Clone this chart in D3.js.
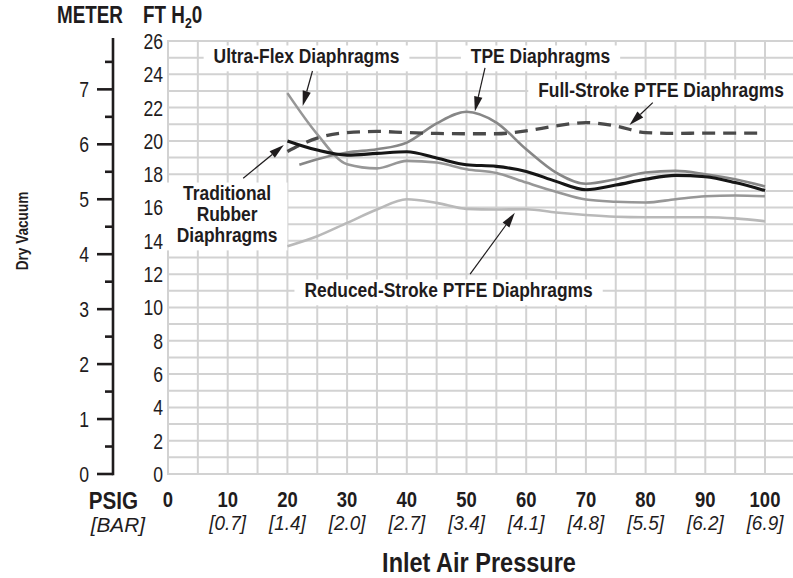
<!DOCTYPE html>
<html>
<head>
<meta charset="utf-8">
<script src="https://cdn.jsdelivr.net/npm/d3@7"></script>
<style>
  html, body { margin: 0; padding: 0; background: #fff; }
  svg { display: block; font-family: "Liberation Sans", Arial, Helvetica, sans-serif; }
</style>
</head>
<body>
<svg id="chart" width="793" height="578"></svg>
<script>
// ---- data -------------------------------------------------------------
// inlet air pressure (psig) at which each curve was sampled
const pressurePsi = [20, 25, 30, 35, 40, 45, 50, 55, 60, 65, 70, 75, 80, 85, 90, 95, 100];
const tpePsi      = [22, 25, 30, 35, 40, 45, 50, 55, 60, 65, 70, 75, 80, 85, 90, 95, 100];

// dry vacuum, ft H2O
const traditionalRubber = [20.0, 19.45, 19.15, 19.25, 19.35, 18.97, 18.57, 18.47, 18.17, 17.57, 17.07, 17.35, 17.7, 17.93, 17.85, 17.5, 17.02];
const ultraFlex         = [22.87, 20.4, 18.6, 18.35, 18.8, 18.7, 18.3, 18.07, 17.5, 16.95, 16.48, 16.35, 16.3, 16.5, 16.68, 16.72, 16.68];
const tpe               = [18.57, 18.9, 19.3, 19.5, 19.9, 21.05, 21.75, 21.1, 19.5, 18.1, 17.43, 17.7, 18.1, 18.2, 18.0, 17.7, 17.27];
const fullStrokePtfe    = [19.37, 20.17, 20.5, 20.57, 20.5, 20.45, 20.43, 20.43, 20.6, 20.9, 21.1, 20.9, 20.5, 20.45, 20.47, 20.47, 20.47];
const reducedStrokePtfe = [13.68, 14.28, 15.08, 15.88, 16.5, 16.28, 15.92, 15.88, 15.9, 15.7, 15.55, 15.45, 15.42, 15.42, 15.42, 15.35, 15.18];

// axis tick labels
const psiTicks   = [0, 10, 20, 30, 40, 50, 60, 70, 80, 90, 100];
const barLabels  = ["", "[0.7]", "[1.4]", "[2.0]", "[2.7]", "[3.4]", "[4.1]", "[4.8]", "[5.5]", "[6.2]", "[6.9]"];
const ftTicks    = [0, 2, 4, 6, 8, 10, 12, 14, 16, 18, 20, 22, 24, 26];
const meterTicks = [0, 1, 2, 3, 4, 5, 6, 7];

// ---- scales -----------------------------------------------------------
const svg = d3.select("#chart");
const x  = d3.scaleLinear().domain([0, 100]).range([168, 765]);
const y  = d3.scaleLinear().domain([0, 26]).range([474, 41]);
const yM = d3.scaleLinear().domain([0, 7.88]).range([474, 41]);

const INK = "#1f1c1d";

// text squeezed horizontally to give a condensed face
function label(parent, str, px, py, o = {}) {
  const t = parent.append("text")
    .attr("transform", `translate(${px},${py}) scale(${o.sx || 0.85},1)`)
    .attr("text-anchor", o.anchor || "start")
    .attr("font-size", o.size || 21)
    .attr("font-weight", o.weight || "bold")
    .attr("font-style", o.italic ? "italic" : "normal")
    .attr("fill", INK)
    .text(str);
  if (o.dy) t.attr("dy", o.dy);
  return t;
}

// ---- grid -------------------------------------------------------------
const grid = svg.append("g").attr("stroke", "#d2d2d2").attr("stroke-width", 2);
grid.selectAll("line.h").data(d3.range(0, 27)).join("line")
  .attr("x1", x(0) - 1).attr("x2", x(106))
  .attr("y1", d => y(d)).attr("y2", d => y(d));
grid.selectAll("line.v").data(d3.range(0, 106, 5)).join("line")
  .attr("x1", d => x(d)).attr("x2", d => x(d))
  .attr("y1", y(26) - 1).attr("y2", y(0) + 1);

// ---- callout labels with white backing --------------------------------
const annotations = [
  { lines: ["Ultra-Flex Diaphragms"], at: [23.2, 24.68], tail: [24.2, 24.2], tip: [22.56, 22.1] },
  { lines: ["TPE Diaphragms"], at: [62.4, 24.68], tail: [53.1, 24.38], tip: [51.4, 21.77] },
  { lines: ["Full-Stroke PTFE Diaphragms"], at: [82.6, 22.64], tail: [81.2, 22.3], tip: [77.3, 20.96] },
  { lines: ["Traditional", "Rubber", "Diaphragms"], at: [9.9, 16.45], tail: [12.6, 17.76], tip: [19.4, 19.76] },
  { lines: ["Reduced-Stroke PTFE Diaphragms"], at: [47.0, 10.63], tail: [50.6, 12.0], tip: [58.1, 15.68] }
];

const labelLayer = svg.append("g");
annotations.forEach(a => {
  const g = labelLayer.append("g")
    .attr("transform", `translate(${x(a.at[0])},${y(a.at[1])}) scale(0.83,1)`);
  const box = g.append("rect").attr("fill", "#fff");
  const t = g.append("text")
    .attr("text-anchor", "middle")
    .attr("font-size", 21).attr("font-weight", "bold").attr("fill", INK);
  a.lines.forEach((s, i) => t.append("tspan").attr("x", 0).attr("dy", i ? 21 : 0).text(s));
  const b = t.node().getBBox();
  box.attr("x", b.x - 12).attr("y", b.y + 1).attr("width", b.width + 24).attr("height", b.height + 3);
});

// ---- curves -----------------------------------------------------------
const line = d3.line().curve(d3.curveMonotoneX).x(d => x(d[0])).y(d => y(d[1]));
const series = [
  { xs: pressurePsi, ys: reducedStrokePtfe, color: "#b9b9b9", width: 2.6 },
  { xs: pressurePsi, ys: ultraFlex, color: "#979797", width: 2.6 },
  { xs: tpePsi, ys: tpe, color: "#878787", width: 2.6 },
  { xs: pressurePsi, ys: fullStrokePtfe, color: "#4a4a4a", width: 3.3, dash: "13,8" },
  { xs: pressurePsi, ys: traditionalRubber, color: "#161616", width: 3.1 }
];
svg.append("g").selectAll("path").data(series).join("path")
  .attr("fill", "none")
  .attr("stroke", d => d.color)
  .attr("stroke-width", d => d.width)
  .attr("stroke-dasharray", d => d.dash || null)
  .attr("d", d => line(d.xs.map((p, i) => [p, d.ys[i]])));

// ---- arrows -----------------------------------------------------------
const arrows = svg.append("g");
annotations.forEach(a => {
  const x0 = x(a.tail[0]), y0 = y(a.tail[1]), x1 = x(a.tip[0]), y1 = y(a.tip[1]);
  const len = Math.hypot(x1 - x0, y1 - y0), ux = (x1 - x0) / len, uy = (y1 - y0) / len;
  const hl = 15, hw = 4.2;
  const bx = x1 - ux * hl, by = y1 - uy * hl;
  arrows.append("line").attr("x1", x0).attr("y1", y0).attr("x2", bx).attr("y2", by)
    .attr("stroke", INK).attr("stroke-width", 1.2);
  arrows.append("path")
    .attr("d", `M${x1},${y1}L${bx - uy * hw},${by + ux * hw}L${bx + uy * hw},${by - ux * hw}Z`)
    .attr("fill", INK);
});

// ---- ft H2O axis labels -----------------------------------------------
const ftG = svg.append("g");
ftTicks.forEach(v => label(ftG, v, 163, y(v), { anchor: "end", size: 22, weight: "normal", dy: "0.36em", sx: 0.8 }));

// ---- meter axis -------------------------------------------------------
const mG = svg.append("g").attr("stroke", INK).attr("stroke-width", 2.6);
mG.append("line").attr("x1", 113).attr("x2", 113).attr("y1", 38).attr("y2", y(0) + 1.3);
mG.selectAll("line.maj").data(meterTicks).join("line")
  .attr("x1", 97).attr("x2", 113).attr("y1", d => yM(d)).attr("y2", d => yM(d));
mG.selectAll("line.min").data(d3.range(0.5, 8, 1)).join("line")
  .attr("x1", 105).attr("x2", 113).attr("y1", d => yM(d)).attr("y2", d => yM(d));
const mT = svg.append("g");
meterTicks.forEach(v => label(mT, v, 89, yM(v), { anchor: "end", size: 22, weight: "normal", dy: "0.36em", sx: 0.8 }));

// ---- headers ----------------------------------------------------------
label(svg, "METER", 57, 23, { size: 23, sx: 0.82 });
const ftH = label(svg, "FT H", 143, 23, { size: 23, sx: 0.82 });
ftH.append("tspan").attr("font-size", 15).attr("dy", 5).text("2");
ftH.append("tspan").attr("dy", -5).text("0");

svg.append("text")
  .attr("transform", `translate(28,231) rotate(-90) scale(0.8,1)`)
  .attr("text-anchor", "middle").attr("font-size", 17).attr("font-weight", "bold")
  .attr("fill", INK).text("Dry Vacuum");

// ---- pressure axis labels ---------------------------------------------
const xG = svg.append("g");
psiTicks.forEach((p, i) => {
  label(xG, p, x(p), 507, { anchor: "middle", size: 22, sx: 0.84 });
  if (barLabels[i]) label(xG, barLabels[i], x(p), 530, { anchor: "middle", size: 21, weight: "normal", italic: true, sx: 0.9 });
});
label(svg, "PSIG", 138, 509, { anchor: "end", size: 24, sx: 0.86 });
label(svg, "[BAR]", 145, 532, { anchor: "end", size: 20, weight: "normal", italic: true, sx: 1.04 });
label(svg, "Inlet Air Pressure", 479, 572, { anchor: "middle", size: 28, sx: 0.84 });
</script>
</body>
</html>
